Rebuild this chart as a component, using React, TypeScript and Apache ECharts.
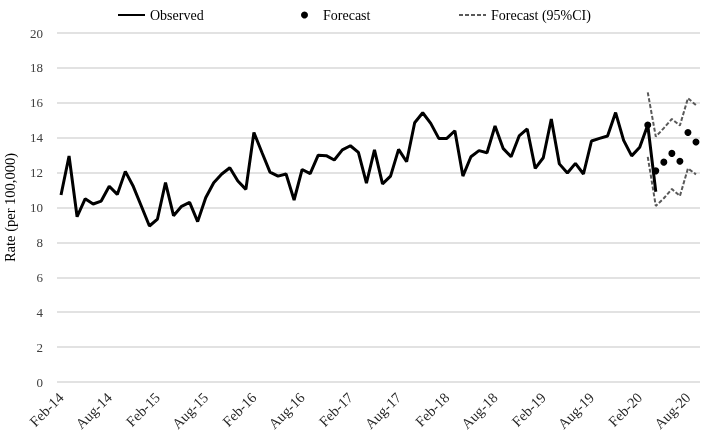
import React, { useEffect, useRef } from "react";
import * as echarts from "echarts";

const MONTHS = ["Jan", "Feb", "Mar", "Apr", "May", "Jun", "Jul", "Aug", "Sep", "Oct", "Nov", "Dec"];
// Feb-14 .. Sep-20 (80 months)
const categories: string[] = [];
for (let k = 0; k < 80; k++) {
  const m = (1 + k) % 12;
  const y = 14 + Math.floor((1 + k) / 12);
  categories.push(`${MONTHS[m]}-${y}`);
}

const observed: (number | null)[] = [
  10.72, 12.95, 9.47, 10.5, 10.2, 10.37, 11.22, 10.75, 12.07, 11.2,
  10.07, 8.94, 9.34, 11.43, 9.53, 10.07, 10.29, 9.19, 10.56, 11.42,
  11.92, 12.28, 11.52, 11.04, 14.3, 13.15, 12.03, 11.8, 11.92, 10.43,
  12.18, 11.94, 13.0, 12.97, 12.72, 13.3, 13.54, 13.16, 11.39, 13.3,
  11.35, 11.8, 13.33, 12.62, 14.86, 15.43, 14.82, 13.96, 13.96, 14.4,
  11.8, 12.91, 13.26, 13.14, 14.67, 13.39, 12.91, 14.1, 14.5, 12.24,
  12.85, 15.07, 12.5, 11.98, 12.53, 11.92, 13.81, 13.96, 14.1, 15.44,
  13.85, 12.96, 13.45, 14.73, 10.9, null, null, null, null, null,
];

// Mar-20 .. Sep-20
const forecastVals = [14.73, 12.1, 12.6, 13.1, 12.65, 14.3, 13.75];
const ciUpperVals = [16.6, 14.06, 14.55, 15.07, 14.7, 16.26, 15.87];
const ciLowerVals = [12.9, 10.09, 10.53, 11.06, 10.66, 12.24, 11.9];
const forecastStart = 73;

const pad = (vals: number[]) => {
  const out: (number | null)[] = new Array(categories.length).fill(null);
  vals.forEach((v, i) => (out[forecastStart + i] = v));
  return out;
};

const yTicks = { min: 0, max: 20, interval: 2 };
const FONT = "'Liberation Serif', serif";

const legendBase = {
  top: 3,
  itemWidth: 27,
  itemHeight: 7,
  textStyle: { fontFamily: FONT, fontSize: 14, color: "#000" },
};

export default function App() {
  const ref = useRef<HTMLDivElement>(null);
  useEffect(() => {
    const chart = echarts.init(ref.current!, null, { renderer: "svg" });
    chart.setOption({
      animation: false,
      textStyle: { fontFamily: FONT },
      legend: [
        { ...legendBase, left: 112, data: [{ name: "Observed", itemStyle: { opacity: 0 } }] },
        { ...legendBase, left: 296, data: [{ name: "Forecast", itemStyle: { opacity: 1 } }] },
        { ...legendBase, left: 453, data: [{ name: "Forecast (95%CI)", itemStyle: { opacity: 0 } }] },
      ],
      grid: { left: 57, right: 3, top: 33, bottom: 53, outerBoundsMode: "none", containLabel: false },
      xAxis: {
        type: "category",
        data: categories,
        boundaryGap: true,
        axisLine: { show: false },
        axisTick: { show: false },
        axisLabel: {
          interval: 5,
          rotate: 45,
          margin: 13,
          fontFamily: FONT,
          fontSize: 14.5,
          color: "#262626",
        },
      },
      yAxis: {
        type: "value",
        min: yTicks.min,
        max: yTicks.max,
        interval: yTicks.interval,
        name: "Rate (per 100,000)",
        nameLocation: "middle",
        nameGap: 40,
        nameTextStyle: { fontFamily: FONT, fontSize: 14.5, color: "#000" },
        axisLabel: { margin: 14, fontFamily: FONT, fontSize: 13, color: "#404040" },
        splitLine: { lineStyle: { color: "#d9d9d9", width: 1.5 } },
      },
      series: [
        {
          name: "Observed",
          type: "line",
          data: observed,
          symbol: "none",
          lineStyle: { color: "#000", width: 3 },
          itemStyle: { color: "#000" },
        },
        {
          name: "Forecast",
          type: "scatter",
          data: pad(forecastVals),
          symbol: "circle",
          symbolSize: 7,
          itemStyle: { color: "#000", opacity: 1 },
          z: 5,
        },
        {
          name: "Forecast (95%CI)",
          type: "line",
          data: pad(ciUpperVals),
          symbol: "none",
          lineStyle: { color: "#595959", width: 2, type: [4, 2] },
          itemStyle: { color: "#595959" },
        },
        {
          name: "Forecast (95%CI)",
          type: "line",
          data: pad(ciLowerVals),
          symbol: "none",
          lineStyle: { color: "#595959", width: 2, type: [4, 2] },
          itemStyle: { color: "#595959" },
        },
      ],
    });
    return () => chart.dispose();
  }, []);
  return (
    <div
      ref={ref}
      style={{ position: "fixed", left: 0, top: 0, width: 703, height: 435 }}
    />
  );
}
